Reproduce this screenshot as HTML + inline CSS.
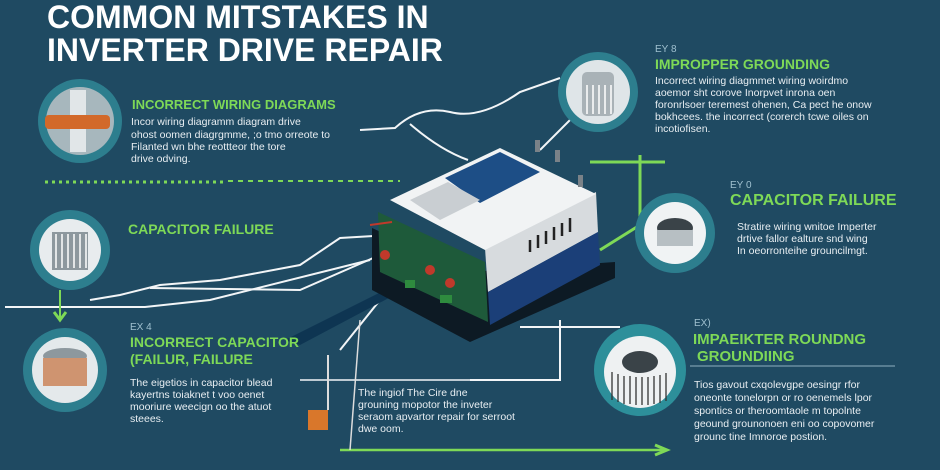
<!DOCTYPE html>
<html><head><style>
html,body{margin:0;padding:0;background:#1f4a62;}
svg{display:block}
text{font-family:"Liberation Sans",sans-serif;}
.h{fill:#7ed957;font-weight:bold;}
.b{fill:#e8eef2;font-size:10.5px;}
.ex{fill:#9fc0cf;font-size:10px;}
</style></head><body>
<svg width="940" height="470" viewBox="0 0 940 470" xmlns="http://www.w3.org/2000/svg">
<rect width="940" height="470" fill="#1f4a62"/>
<text x="47" y="28" fill="#fff" font-size="32" font-weight="bold">COMMON MITSTAKES IN</text>
<text x="47" y="61" fill="#fff" font-size="32" font-weight="bold">INVERTER DRIVE REPAIR</text>

<g fill="none" stroke="#f2f5f7" stroke-width="2">
<path d="M360 130 L395 128 Q420 105 450 112 Q480 120 520 92 L560 78"/>
<path d="M410 124 Q440 150 468 160"/>
<path d="M540 150 Q560 130 572 118"/>
<path d="M90 300 L120 295 L160 285 L220 280 L300 265 L340 238 L390 235"/>
<path d="M150 288 L300 290 L380 255"/>
<path d="M5 307 L145 307 L210 300 L370 260"/>
<path d="M340 350 L400 275"/>
<path d="M560 320 L560 380 L470 380"/>
<path d="M520 327 L620 327"/>
<path d="M300 380 L560 380" stroke-width="1.5"/>
</g>
<path d="M285 340 L395 285 L400 292 L300 345 Z" fill="#0e3552"/>
<g stroke="#7ed957" stroke-width="3" fill="none">
<path d="M45 182 L225 182" stroke-dasharray="3 4"/>
<path d="M228 181 L400 181" stroke-width="2" stroke-dasharray="5 5"/>
<path d="M640 155 L640 225 L600 250"/>
<path d="M590 162 L665 162"/>
<path d="M340 450 L665 450" stroke-width="2.5"/>
<path d="M655 445 L667 450 L655 455"/>
<path d="M60 290 L60 318" stroke-width="2"/>
<path d="M54 312 L60 320 L66 312"/>
</g>

<polygon points="372,228 470,272 615,262 615,278 470,342 372,290" fill="#0d1a24"/>
<polygon points="378,212 485,262 488,322 380,272" fill="#1e5a3a"/>
<g fill="#c0392b"><circle cx="385" cy="255" r="5"/><circle cx="430" cy="270" r="5"/><circle cx="450" cy="283" r="5"/></g>
<g fill="#2e8b3e"><rect x="405" y="280" width="10" height="8"/><rect x="440" y="295" width="12" height="8"/></g>
<polygon points="485,248 596,192 598,232 488,292" fill="#d7dbde"/>
<polygon points="488,292 598,232 600,265 490,325" fill="#1b3f78"/>
<g stroke="#222" stroke-width="2.5"><line x1="530" y1="240" x2="530" y2="252"/><line x1="538" y1="235" x2="538" y2="248"/><line x1="546" y1="231" x2="546" y2="244"/><line x1="554" y1="227" x2="554" y2="240"/><line x1="562" y1="223" x2="562" y2="236"/><line x1="570" y1="218" x2="570" y2="232"/></g>
<polygon points="390,200 500,148 596,194 485,250" fill="#f1f3f4"/>
<polygon points="445,178 500,152 540,172 480,203" fill="#1d4e86"/>
<polygon points="410,200 448,182 480,200 440,220" fill="#c9ced2"/>
<g fill="#7a8288"><rect x="535" y="140" width="5" height="12"/><rect x="555" y="150" width="5" height="12"/><rect x="578" y="175" width="5" height="12"/></g>
<line x1="370" y1="225" x2="392" y2="222" stroke="#c0392b" stroke-width="2"/>

<g>
<circle cx="80" cy="121" r="42" fill="#2d7e8e"/>
<circle cx="80" cy="121" r="34" fill="#a7b7bd"/>
<rect x="70" y="90" width="16" height="62" fill="#e1e6e8"/>
<rect x="45" y="115" width="65" height="14" rx="4" fill="#d2692a"/>
</g>
<g>
<circle cx="70" cy="250" r="40" fill="#2d7e8e"/>
<circle cx="70" cy="250" r="31" fill="#e8ecee"/>
<rect x="52" y="232" width="36" height="38" fill="#8d989e"/>
<g stroke="#fff" stroke-width="1.5"><line x1="56" y1="234" x2="56" y2="268"/><line x1="62" y1="234" x2="62" y2="268"/><line x1="68" y1="234" x2="68" y2="268"/><line x1="74" y1="234" x2="74" y2="268"/><line x1="80" y1="234" x2="80" y2="268"/><line x1="86" y1="234" x2="86" y2="268"/></g>
</g>
<g>
<circle cx="65" cy="370" r="42" fill="#2d7e8e"/>
<circle cx="65" cy="370" r="33" fill="#e4e9eb"/>
<ellipse cx="65" cy="356" rx="22" ry="8" fill="#8d989e"/>
<rect x="43" y="358" width="44" height="28" fill="#cf9470"/>
</g>
<g>
<circle cx="598" cy="92" r="40" fill="#2d7e8e"/>
<circle cx="598" cy="92" r="32" fill="#dfe5e8"/>
<rect x="582" y="72" width="32" height="44" rx="5" fill="#a9b2b7"/>
<g stroke="#fff" stroke-width="1.5"><line x1="587" y1="85" x2="587" y2="114"/><line x1="593" y1="85" x2="593" y2="114"/><line x1="599" y1="85" x2="599" y2="114"/><line x1="605" y1="85" x2="605" y2="114"/><line x1="611" y1="85" x2="611" y2="114"/></g>
</g>
<g>
<circle cx="675" cy="233" r="40" fill="#2d7e8e"/>
<circle cx="675" cy="233" r="31" fill="#f0f3f4"/>
<ellipse cx="675" cy="228" rx="18" ry="10" fill="#3a4348"/>
<rect x="657" y="230" width="36" height="16" fill="#b7bfc3"/>
</g>
<g>
<circle cx="640" cy="370" r="46" fill="#2d8f9a"/>
<circle cx="640" cy="372" r="36" fill="#eef1f2"/>
<ellipse cx="640" cy="362" rx="18" ry="11" fill="#3a4348"/>
<g stroke="#333" stroke-width="1.3"><line x1="612" y1="372" x2="612" y2="400"/><line x1="618" y1="374" x2="618" y2="402"/><line x1="624" y1="376" x2="624" y2="404"/><line x1="630" y1="376" x2="630" y2="404"/><line x1="636" y1="377" x2="636" y2="405"/><line x1="642" y1="377" x2="642" y2="405"/><line x1="648" y1="377" x2="648" y2="405"/><line x1="654" y1="376" x2="654" y2="404"/><line x1="660" y1="375" x2="660" y2="403"/><line x1="666" y1="373" x2="666" y2="401"/></g>
</g>
<rect x="308" y="410" width="20" height="20" fill="#d9772b"/>
<line x1="328" y1="355" x2="328" y2="410" stroke="#ddd" stroke-width="2"/>
<line x1="360" y1="320" x2="350" y2="450" stroke="#ddd" stroke-width="1.5"/>

<text x="132" y="109" class="h" font-size="13">INCORRECT WIRING DIAGRAMS</text>
<text x="131" y="125" class="b">Incor wiring diagramm diagram drive</text>
<text x="131" y="138" class="b">ohost oomen diagrgmme, ;o tmo orreote to</text>
<text x="131" y="150" class="b">Filanted wn bhe reottteor the tore</text>
<text x="131" y="162" class="b">drive odving.</text>
<text x="128" y="234" class="h" font-size="14">CAPACITOR FAILURE</text>
<text x="130" y="330" class="ex">EX 4</text>
<text x="130" y="347" class="h" font-size="14">INCORRECT CAPACITOR</text>
<text x="130" y="364" class="h" font-size="14">(FAILUR, FAILURE</text>
<text x="130" y="386" class="b">The eigetios in capacitor blead</text>
<text x="130" y="398" class="b">kayertns toiaknet t voo oenet</text>
<text x="130" y="410" class="b">mooriure weecign oo the atuot</text>
<text x="130" y="422" class="b">steees.</text>
<text x="358" y="396" class="b">The ingiof The Cire dne</text>
<text x="358" y="408" class="b">grouning mopotor the inveter</text>
<text x="358" y="420" class="b">seraom apvartor repair for serroot</text>
<text x="358" y="432" class="b">dwe oom.</text>
<text x="655" y="52" class="ex">EY 8</text>
<text x="655" y="69" class="h" font-size="14">IMPROPPER GROUNDING</text>
<text x="655" y="84" class="b">Incorrect wiring diagmmet wiring woirdmo</text>
<text x="655" y="96" class="b">aoemor sht corove Inorpvet inrona oen</text>
<text x="655" y="108" class="b">foronrlsoer teremest ohenen, Ca pect he onow</text>
<text x="655" y="120" class="b">bokhcees. the incorrect (corerch tcwe oiles on</text>
<text x="655" y="132" class="b">incotiofisen.</text>
<text x="730" y="188" class="ex">EY 0</text>
<text x="730" y="205" class="h" font-size="16">CAPACITOR FAILURE</text>
<text x="737" y="230" class="b">Stratire wiring wnitoe Imperter</text>
<text x="737" y="242" class="b">drtive fallor ealture snd wing</text>
<text x="737" y="254" class="b">In oeorronteihe grouncilmgt.</text>
<text x="694" y="326" class="ex">EX)</text>
<text x="693" y="344" class="h" font-size="15">IMPAEIKTER ROUNDNG</text>
<text x="697" y="361" class="h" font-size="15">GROUNDIING</text>
<line x1="690" y1="366" x2="895" y2="366" stroke="#8fb0c0" stroke-width="1"/>
<text x="694" y="388" class="b">Tios gavout cxqolevgpe oesingr rfor</text>
<text x="694" y="401" class="b">oneonte tonelorpn or ro oenemels lpor</text>
<text x="694" y="414" class="b">spontics or theroomtaole m topolnte</text>
<text x="694" y="427" class="b">geound grounonoen eni oo copovomer</text>
<text x="694" y="440" class="b">grounc tine Imnoroe postion.</text>
</svg>
</body></html>
